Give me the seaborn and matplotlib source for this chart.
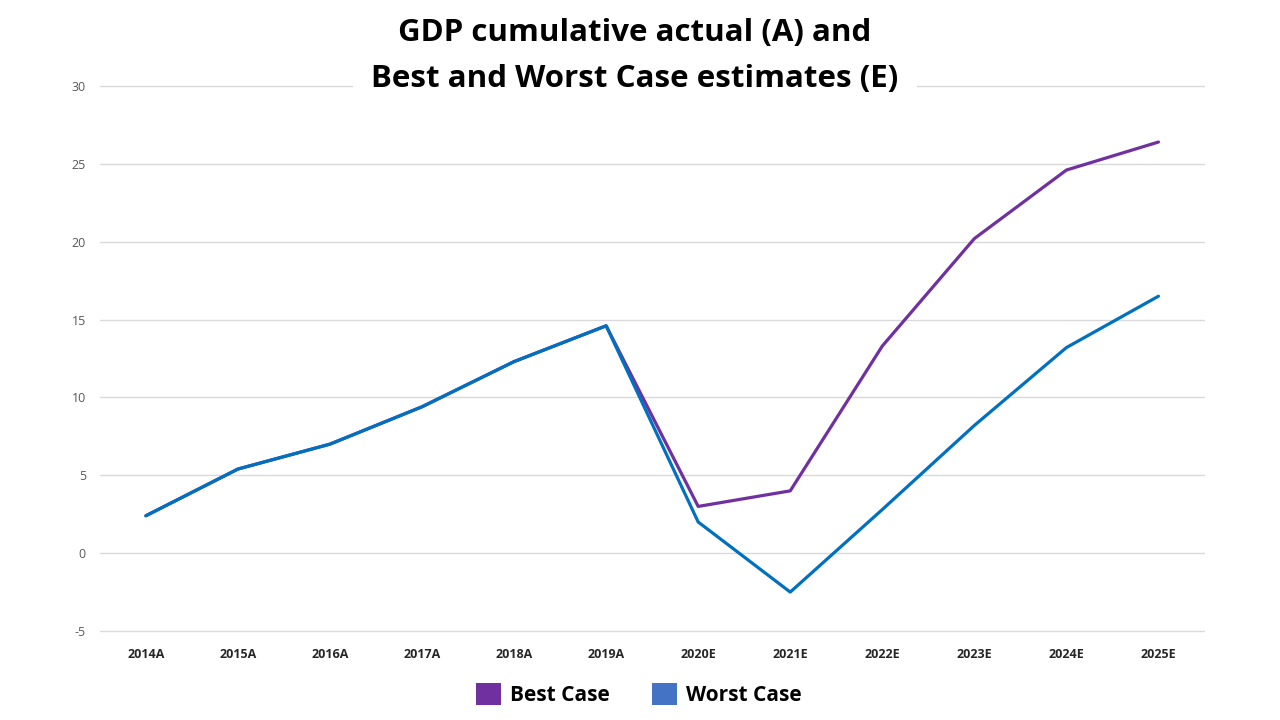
import matplotlib
matplotlib.use("Agg")
import matplotlib.pyplot as plt
from matplotlib.patches import Patch
import pandas as pd
import seaborn as sns

years = ["2014A", "2015A", "2016A", "2017A", "2018A", "2019A",
         "2020E", "2021E", "2022E", "2023E", "2024E", "2025E"]
best_case = [2.4, 5.4, 7.0, 9.4, 12.3, 14.6, 3.0, 4.0, 13.3, 20.2, 24.6, 26.4]
worst_case = [2.4, 5.4, 7.0, 9.4, 12.3, 14.6, 2.0, -2.5, 2.8, 8.2, 13.2, 16.5]
series_names = ["Best Case", "Worst Case"]

line_colors = {"Best Case": "#7030A0", "Worst Case": "#0070C0"}
legend_colors = ["#7030A0", "#4472C4"]

df = pd.DataFrame({
    "year": years * 2,
    "value": best_case + worst_case,
    "case": [series_names[0]] * len(years) + [series_names[1]] * len(years),
})

sns.set_style("white")
plt.rcParams["font.family"] = ["Open Sans", "DejaVu Sans"]
plt.rcParams["axes.unicode_minus"] = False
plt.rcParams["text.color"] = "black"

fig = plt.figure(figsize=(12.8, 7.2), dpi=100)
ax = fig.add_axes([0.078, 0.1236, 0.863, 0.757])

sns.lineplot(data=df, x="year", y="value", hue="case", palette=line_colors,
             linewidth=2.3, ax=ax, legend=False, sort=False)

ax.set_xlim(-0.5, len(years) - 0.5)
ax.set_ylim(-5, 30)
ax.set_yticks(range(-5, 31, 5))
ax.yaxis.grid(True, color="#D9D9D9", linewidth=1)
for gl in ax.get_ygridlines():
    gl.set_clip_on(False)
ax.set_axisbelow(True)
for s in ax.spines.values():
    s.set_visible(False)
ax.set_xlabel(""); ax.set_ylabel("")
ax.tick_params(axis="y", length=0, labelsize=9, labelcolor="#595959", pad=10)
ax.tick_params(axis="x", length=0, labelsize=9, labelcolor="#262626", pad=12)
for lbl in ax.get_xticklabels():
    lbl.set_fontweight("bold")

# title box hides the top gridline behind it, as in the original
title = fig.text(0.496, 0.922, "GDP cumulative actual (A) and\nBest and Worst Case estimates (E)",
                 ha="center", va="center", fontsize=22.5, fontweight="bold", linespacing=1.72,
                 color="black")
title.set_bbox(dict(facecolor="white", edgecolor="none", boxstyle="square,pad=0.6"))

handles = [Patch(facecolor=c, edgecolor="none") for c in legend_colors]
fig.legend(handles, series_names, loc="center", bbox_to_anchor=(0.499, 0.036), ncol=2,
           frameon=False, prop={"size": 15, "weight": "bold"}, handlelength=1.2,
           handleheight=1.25, handletextpad=0.45, columnspacing=2.0, labelcolor="black")

plt.savefig("out.png", dpi=100)
plt.close()
